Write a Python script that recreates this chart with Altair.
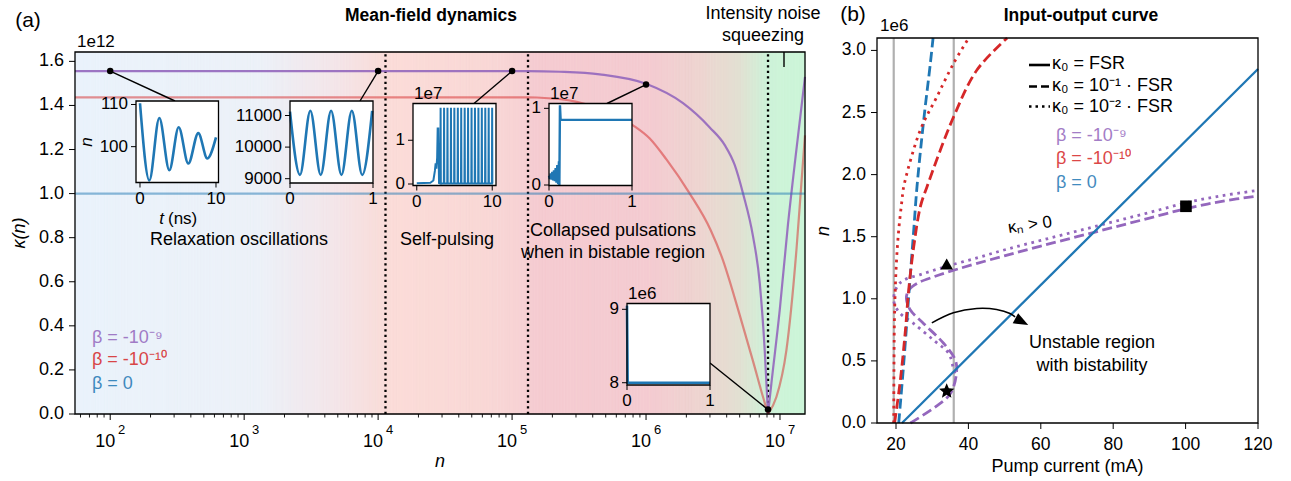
import math
import altair as alt
import pandas as pd

W, H = 1291, 481
FONT = "Liberation Sans"
PURPLE, RED, BLUE = "#9467bd", "#d62728", "#1f77b4"

# ============================ DATA ============================
# ---- panel (a): kappa(n)  (units of 1e12) ----
purple_n = [54.6, 1.3e5, 2.27e5, 4.51e5, 1.0e6, 1.888e6, 2.99e6, 3.87e6, 4.59e6, 5.3e6,
            6.29e6, 7.06e6, 7.69e6, 8.14e6, 8.63e6, 9.95e6, 1.147e7, 1.326e7, 1.537e7]
purple_k = [1.556, 1.556, 1.553, 1.541, 1.498, 1.410, 1.300, 1.220, 1.130, 1.000,
            0.806, 0.595, 0.290, 0.0, 0.140, 0.470, 0.860, 1.200, 1.530]
red_n = [54.6, 1.3e5, 1.53e5, 3.04e5, 8.0e5, 1.066e6, 1.42e6, 2.12e6, 3.04e6, 3.67e6,
         5.0e6, 6.29e6, 7.47e6, 8.14e6, 9.4e6, 1.116e7, 1.326e7, 1.444e7, 1.537e7]
red_k = [1.437, 1.437, 1.436, 1.416, 1.310, 1.250, 1.155, 1.000, 0.834, 0.714,
         0.450, 0.240, 0.077, 0.0, 0.077, 0.289, 0.743, 1.045, 1.264]
blue_n = [54.6, 1.537e7]
blue_k = [1.0, 1.0]

region_n = [1.135e4, 1.315e5, 8.14e6]            # dotted region boundaries
dot_n = [100, 1e4, 1e5, 1e6, 8.14e6]              # marked points on the purple curve
dot_k = [1.556, 1.556, 1.556, 1.495, 0.02]

bg_n = [54.6, 1.3e3, 4.4e3, 1.12e4, 1.3e4, 5.7e4, 1.2e5, 1.45e5, 1.06e6, 2.5e6, 5.0e6, 8.1e6, 1.537e7]
bg_color = ["#eaf2fb", "#ecf1f8", "#f3e6ea", "#f9dcd9", "#fbdcd8", "#f9d8d6", "#f7d2d4",
            "#f5cbd1", "#f4cbd1", "#eed4d0", "#e2e0d2", "#cdf3d8", "#ccf5d8"]

a_xtick_vals = [1e2, 1e3, 1e4, 1e5, 1e6, 1e7]
a_xtick_base = ["10", "10", "10", "10", "10", "10"]
a_xtick_exp = ["2", "3", "4", "5", "6", "7"]
a_ytick_vals = [0, 0.2, 0.4, 0.6, 0.8, 1.0, 1.2, 1.4, 1.6]
a_ytick_lab = ["0.0", "0.2", "0.4", "0.6", "0.8", "1.0", "1.2", "1.4", "1.6"]

# insets (time series)
ins1_t = [0, 1.23, 2.54, 3.86, 5.09, 6.36, 7.67, 8.86, 10.0]
ins1_v = [110.3, 92.0, 106.8, 94.4, 104.6, 96.0, 103.2, 97.2, 102.2]
ins2_t = [0, 0.12, 0.245, 0.37, 0.495, 0.62, 0.745, 0.87, 0.99]
ins2_v = [11120, 9120, 11150, 9120, 11150, 9120, 11150, 9120, 11150]
ins3_pre_t = [0, 1.8, 2.2, 2.4, 2.5, 2.6, 2.7, 2.77, 2.85, 2.95]
ins3_pre_v = [0.02, 0.03, 0.08, 0.30, 0.47, 0.35, 0.60, 1.27, 1.27, 0.02]
ins3_pulse_t = [3.16, 3.62, 4.07, 4.53, 4.98, 5.44, 5.89, 6.35, 6.80, 7.26, 7.71, 8.17,
                8.62, 9.08, 9.53, 9.99]
ins3_pulse_v = 1.74
ins4_t = [0, 0.01, 0.02, 0.03, 0.04, 0.05, 0.06, 0.07, 0.08, 0.09, 0.10, 0.11, 0.12,
          0.125, 0.132, 0.14, 1.0]
ins4_v = [0.12, 0.08, 0.15, 0.07, 0.17, 0.06, 0.19, 0.05, 0.22, 0.03, 0.26, 0.01, 0.31,
          0.0, 1.04, 0.85, 0.85]
ins5_t = [0, 0.008, 0.02, 1.0]
ins5_v = [9.05, 8.0, 8.0, 8.0]

# ---- panel (b): input-output curves (n in units of 1e6) ----
bs_I = [21.66, 120]; bs_n = [0, 2.85]                                   # beta=0, FSR
bd_I = [20.75, 22.13, 23.5, 24.9, 25.8, 27.66, 29.5, 30.24]            # beta=0, 0.1 FSR
bd_n = [0, 0.479, 1.016, 1.554, 1.903, 2.44, 2.898, 3.1]
rd_I = [19.6, 21.2, 22.6, 23.5, 24.9, 26.73, 28.57, 35.95, 42.4, 50.7]  # beta=-1e-10, 0.1 FSR
rd_n = [0, 0.344, 0.748, 1.07, 1.42, 1.742, 1.903, 2.468, 2.844, 3.1]
rt_I = [19.37, 19.45, 19.6, 20.1, 20.75, 21.66, 22.13, 26.73, 31.35, 35.95, 40.1]  # 0.01 FSR
rt_n = [0, 0.5, 0.88, 1.285, 1.554, 1.796, 1.903, 2.36, 2.63, 2.898, 3.1]
pd_I = [23.97, 30.9, 35.03, 36.7, 36.4, 33.2, 27.66, 23.97, 22.87, 23.5, 25.8, 30.4,
        35.95, 42.4, 50.7, 60, 70, 80, 90, 100.4, 110, 120]             # beta=-1e-9, 0.1 FSR
pd_n = [0, 0.13, 0.237, 0.40, 0.506, 0.64, 0.80, 0.91, 1.003, 1.07, 1.124, 1.177,
        1.23, 1.285, 1.352, 1.425, 1.50, 1.575, 1.65, 1.728, 1.785, 1.828]
pt_I = [36.3, 35.76, 34.57, 30.4, 24.9, 20.75, 19.37, 20.28, 22.13, 26.73, 33.2, 42.4,
        50.7, 60, 70, 80, 90, 100.4, 110, 120]                          # beta=-1e-9, 0.01 FSR
pt_n = [0.40, 0.452, 0.56, 0.667, 0.80, 0.895, 0.99, 1.097, 1.15, 1.195, 1.255, 1.33,
        1.40, 1.47, 1.545, 1.62, 1.695, 1.775, 1.83, 1.873]
grey_I = [19.37, 35.95]
mark_I = [34.0, 34.0, 100.1]
mark_n = [1.28, 0.256, 1.745]
arrow_I = [29.9, 35.85, 42.3, 47.8, 51.5, 52.9]
arrow_n = [0.806, 0.887, 0.922, 0.914, 0.882, 0.855]
arrowhead_I, arrowhead_n = 54.76, 0.816

b_xtick_vals = [20, 40, 60, 80, 100, 120]
b_xtick_lab = ["20", "40", "60", "80", "100", "120"]
b_ytick_vals = [0, 0.5, 1.0, 1.5, 2.0, 2.5, 3.0]
b_ytick_lab = ["0.0", "0.5", "1.0", "1.5", "2.0", "2.5", "3.0"]

# ============================ LAYOUT ============================
A_NMIN, A_NMAX, A_KMAX = 54.6, 1.537e7, 1.6425
A_PX, A_PY = (75, 805), (414, 52)
B_IMIN, B_IMAX, B_NMAX = 14.75, 120, 3.1
B_PX, B_PY = (877, 1258), (423, 38)

ONE = pd.DataFrame({"a": [1]})


def S(dom, rng, log=False):
    if log:
        return alt.Scale(type="log", domain=list(dom), range=list(rng), nice=False)
    return alt.Scale(type="linear", domain=list(dom), range=list(rng), nice=False, zero=False)


AX = lambda: S((A_NMIN, A_NMAX), A_PX, log=True)
AY = lambda: S((0, A_KMAX), A_PY)
BX = lambda: S((B_IMIN, B_IMAX), B_PX)
BY = lambda: S((0, B_NMAX), B_PY)

LO, HI = math.log10(A_NMIN), math.log10(A_NMAX)


def ax_inv(px):
    return 10 ** (LO + (px - A_PX[0]) / (A_PX[1] - A_PX[0]) * (HI - LO))


def ay_inv(py):
    return (A_PY[0] - py) / (A_PY[0] - A_PY[1]) * A_KMAX


def rect(xs, ys, xd, yd, **mk):
    df = pd.DataFrame({"x": [xd[0]], "x2": [xd[1]], "y": [yd[0]], "y2": [yd[1]]})
    return alt.Chart(df).mark_rect(**mk).encode(
        x=alt.X("x:Q", scale=xs, axis=None), x2="x2:Q",
        y=alt.Y("y:Q", scale=ys, axis=None), y2="y2:Q")


def line(xv, yv, xs, ys, **mk):
    df = pd.DataFrame({"x": xv, "y": yv, "i": list(range(len(xv)))})
    return alt.Chart(df).mark_line(**mk).encode(
        x=alt.X("x:Q", scale=xs, axis=None),
        y=alt.Y("y:Q", scale=ys, axis=None),
        order="i:Q")


def txt(s, x, y, size=18, color="black", weight="normal", align="center",
        style="normal", angle=None, opacity=None, baseline="middle"):
    mk = dict(text=s, fontSize=size, color=color, fontWeight=weight, align=align,
              baseline=baseline, font=FONT, fontStyle=style)
    if angle is not None:
        mk["angle"] = angle
    if opacity is not None:
        mk["opacity"] = opacity
    return alt.Chart(ONE).mark_text(**mk).encode(x=alt.value(x), y=alt.value(y))


def vrule(vals, xs, ys, yd, **mk):
    df = pd.DataFrame({"x": vals, "y": [yd[0]] * len(vals), "y2": [yd[1]] * len(vals)})
    return alt.Chart(df).mark_rule(**mk).encode(
        x=alt.X("x:Q", scale=xs, axis=None),
        y=alt.Y("y:Q", scale=ys, axis=None), y2="y2:Q")


# ---- hand-drawn axes (ticks + labels through the scales) ----
def xticks(vals, xs, y0, length, width=1.0):
    return alt.Chart(pd.DataFrame({"v": vals})).mark_rule(color="black", strokeWidth=width).encode(
        x=alt.X("v:Q", scale=xs, axis=None), y=alt.value(y0), y2=alt.value(y0 + length))


def xlabels(vals, labels, xs, y, size, dx=0):
    mk = dict(fontSize=size, baseline="top", align="center", color="black", font=FONT)
    if dx:
        mk["dx"] = dx
    return alt.Chart(pd.DataFrame({"v": vals, "l": labels})).mark_text(**mk).encode(
        x=alt.X("v:Q", scale=xs, axis=None), y=alt.value(y), text="l:N")


def yticks(vals, ys, x0, length, width=1.0):
    return alt.Chart(pd.DataFrame({"v": vals})).mark_rule(color="black", strokeWidth=width).encode(
        y=alt.Y("v:Q", scale=ys, axis=None), x=alt.value(x0 - length), x2=alt.value(x0))


def ylabels(vals, labels, ys, x, size):
    return alt.Chart(pd.DataFrame({"v": vals, "l": labels})).mark_text(
        fontSize=size, baseline="middle", align="right", color="black", font=FONT).encode(
        y=alt.Y("v:Q", scale=ys, axis=None), x=alt.value(x), text="l:N")


def hexrgb(h):
    return [int(h[i:i + 2], 16) for i in (1, 3, 5)]


layers = []

# ---------------- panel (a) ----------------
stop_pos = [(math.log10(n) - LO) / (HI - LO) for n in bg_n]
NSL = 240
sl_x, sl_x2, sl_c = [], [], []
for i in range(NSL):
    p0, p1 = i / NSL, (i + 1) / NSL
    pm = (p0 + p1) / 2
    j = 0
    for k in range(len(stop_pos) - 1):
        if stop_pos[k] <= pm:
            j = k
    f = (pm - stop_pos[j]) / (stop_pos[j + 1] - stop_pos[j])
    f = min(1, max(0, f))
    c0, c1 = hexrgb(bg_color[j]), hexrgb(bg_color[j + 1])
    c = [round(a + (b - a) * f) for a, b in zip(c0, c1)]
    sl_x.append(10 ** (LO + p0 * (HI - LO)))
    sl_x2.append(10 ** (LO + p1 * (HI - LO)))
    sl_c.append("#%02x%02x%02x" % tuple(c))
bgdf = pd.DataFrame({"x": sl_x, "x2": sl_x2, "y": [0.0] * NSL, "y2": [A_KMAX] * NSL, "c": sl_c})
layers.append(alt.Chart(bgdf).mark_rect(strokeWidth=0.8).encode(
    x=alt.X("x:Q", scale=AX(), axis=None), x2="x2:Q",
    y=alt.Y("y:Q", scale=AY(), axis=None), y2="y2:Q",
    fill=alt.Fill("c:N", scale=None), stroke=alt.Stroke("c:N", scale=None)))

layers.append(vrule(region_n, AX(), AY(), (0, A_KMAX), color="black", strokeWidth=2.3,
                    strokeDash=[2.3, 3.2]))


def split_at_min(xv, yv):
    m = yv.index(min(yv))
    return (xv[:m + 1], yv[:m + 1]), (xv[m:], yv[m:])


for xv, yv, col, op in [(purple_n, purple_k, PURPLE, 0.9), (red_n, red_k, RED, 0.5)]:
    for part in split_at_min(xv, yv):
        layers.append(line(part[0], part[1], AX(), AY(), color=col, strokeWidth=2.2,
                           opacity=op, interpolate="monotone"))
layers.append(line(blue_n, blue_k, AX(), AY(), color=BLUE, strokeWidth=2.2, opacity=0.5))

# connectors from curve points to insets
conn_px = [(175, 101), (360, 101), (474, 103.5), (607, 103.5), (710, 363)]
cdf = pd.DataFrame({"x": dot_n, "y": dot_k,
                    "x2": [ax_inv(p[0]) for p in conn_px],
                    "y2": [ay_inv(p[1]) for p in conn_px]})
layers.append(alt.Chart(cdf).mark_rule(color="black", strokeWidth=1.4).encode(
    x=alt.X("x:Q", scale=AX(), axis=None), y=alt.Y("y:Q", scale=AY(), axis=None),
    x2="x2:Q", y2="y2:Q"))

# insets
INSETS = [
    dict(t=ins1_t, v=ins1_v, bx=(136, 218.5), by=(101, 182.5), xd=(-0.526, 10.33),
         yd=(91.5, 110.83), xt=[0, 10], xl=["0", "10"], yt=[100, 110], yl=["100", "110"],
         lw=2.6, ip="monotone", mult=None),
    dict(t=ins2_t, v=ins2_v, bx=(290, 373), by=(101, 183), xd=(0, 1),
         yd=(8864, 11459), xt=[0, 1], xl=["0", "1"], yt=[9000, 10000, 11000],
         yl=["9000", "10000", "11000"], lw=2.6, ip="monotone", mult=None),
    dict(t=None, v=None, bx=(413, 496), by=(103.5, 185.5), xd=(-0.5, 10.5),
         yd=(-0.034, 1.84), xt=[0, 10], xl=["0", "10"], yt=[0, 1], yl=["0", "1"],
         lw=2.0, ip="linear", mult="1e7"),
    dict(t=ins4_t, v=ins4_v, bx=(549, 632), by=(103.5, 185.5), xd=(0, 1),
         yd=(-0.0065, 1.063), xt=[0, 1], xl=["0", "1"], yt=[0, 1], yl=["0", "1"],
         lw=2.4, ip="linear", mult="1e7"),
    dict(t=ins5_t, v=ins5_v, bx=(627, 710), by=(303.5, 385), xd=(0, 1),
         yd=(7.969, 9.079), xt=[0, 1], xl=["0", "1"], yt=[8, 9], yl=["8", "9"],
         lw=2.6, ip="linear", mult="1e6"),
]

t3, v3 = list(ins3_pre_t), list(ins3_pre_v)
for tp in ins3_pulse_t:
    t3 += [tp - 0.03, tp, tp + 0.03]
    v3 += [0.01, ins3_pulse_v, 0.01]
INSETS[2]["t"], INSETS[2]["v"] = t3, v3

for ins in INSETS:
    bx, by = ins["bx"], ins["by"]
    xs = lambda: S(ins["xd"], bx)
    ys = lambda: S(ins["yd"], (by[1], by[0]))
    layers.append(rect(xs(), ys(), ins["xd"], ins["yd"], fill="white"))
    layers.append(line(ins["t"], ins["v"], xs(), ys(), color=BLUE, strokeWidth=ins["lw"],
                       interpolate=ins["ip"]))
    layers.append(rect(xs(), ys(), ins["xd"], ins["yd"], fillOpacity=0, stroke="black",
                       strokeWidth=1.3))
    layers.append(xticks(ins["xt"], xs(), by[1], 5))
    layers.append(xlabels(ins["xt"], ins["xl"], xs(), by[1] + 8, 17))
    layers.append(yticks(ins["yt"], ys(), bx[0], 5))
    layers.append(ylabels(ins["yt"], ins["yl"], ys(), bx[0] - 8, 17))
    if ins["mult"]:
        layers.append(txt(ins["mult"], bx[0] + 1, by[0] - 10, size=17, align="left"))

# inset 1 axis titles
layers += [
    txt("n", 87, 142, size=17, style="italic", angle=270),
    txt("t", 164, 219, size=17, style="italic", align="right"),
    txt("(ns)", 168, 219, size=17, align="left"),
]

# dots on top
layers.append(alt.Chart(pd.DataFrame({"x": dot_n, "y": dot_k})).mark_circle(
    color="black", size=42, opacity=1).encode(
    x=alt.X("x:Q", scale=AX(), axis=None), y=alt.Y("y:Q", scale=AY(), axis=None)))

layers.append(rect(AX(), AY(), (A_NMIN, A_NMAX), (0, A_KMAX), fillOpacity=0,
                   stroke="black", strokeWidth=1.3))

# axes of panel (a)
minor = [m * 10 ** d for d in range(1, 8) for m in range(2, 10)
         if A_NMIN <= m * 10 ** d <= A_NMAX]
layers += [
    xticks(a_xtick_vals, AX(), A_PY[0], 6),
    xticks(minor, AX(), A_PY[0], 3.5, width=0.9),
    xlabels(a_xtick_vals, a_xtick_base, AX(), 433, 18, dx=-5),
    xlabels(a_xtick_vals, a_xtick_exp, AX(), 423.5, 13, dx=11.5),
    yticks(a_ytick_vals, AY(), A_PX[0], 6),
    ylabels(a_ytick_vals, a_ytick_lab, AY(), A_PX[0] - 11, 18),
    txt("n", 440, 462, size=18, style="italic"),
    txt("κ(n)", 20, 233, size=18, style="italic", angle=270),
]

# panel (a) annotations
layers += [
    txt("(a)", 28, 21, size=21),
    txt("Mean-field dynamics", 431, 16, size=17.5, weight="bold"),
    txt("1e12", 77, 42, size=17, align="left"),
    txt("Relaxation oscillations", 239, 240),
    txt("Self-pulsing", 447, 240),
    txt("Collapsed pulsations", 613, 231),
    txt("when in bistable region", 613, 253),
    txt("Intensity noise", 763, 14),
    txt("squeezing", 763, 36),
    txt("β = -10⁻⁹", 92, 338, color=PURPLE, align="left", opacity=0.85),
    txt("β = -10⁻¹⁰", 92, 360, color=RED, align="left", opacity=0.85),
    txt("β = 0", 92, 384, color=BLUE, align="left", opacity=0.85),
    alt.Chart(ONE).mark_rule(color="black", strokeWidth=1.4).encode(
        x=alt.value(784), y=alt.value(52), y2=alt.value(67)),
]

# ---------------- panel (b) ----------------
layers.append(vrule(grey_I, BX(), BY(), (0, B_NMAX), color="#b0b0b0", strokeWidth=2.2))

DASH, DOT = [10, 4.5], [2.7, 4.6]
layers.append(line(pt_I, pt_n, BX(), BY(), color=PURPLE, strokeWidth=2.8, strokeDash=DOT,
                   interpolate="catmull-rom"))
layers.append(line(pd_I, pd_n, BX(), BY(), color=PURPLE, strokeWidth=2.8, strokeDash=DASH,
                   interpolate="catmull-rom"))
layers.append(line(bs_I, bs_n, BX(), BY(), color=BLUE, strokeWidth=2.3))
layers.append(line(bd_I, bd_n, BX(), BY(), color=BLUE, strokeWidth=2.8, strokeDash=DASH,
                   interpolate="catmull-rom"))
layers.append(line(rd_I, rd_n, BX(), BY(), color=RED, strokeWidth=2.8, strokeDash=DASH,
                   interpolate="catmull-rom"))
layers.append(line(rt_I, rt_n, BX(), BY(), color=RED, strokeWidth=2.8, strokeDash=DOT,
                   interpolate="catmull-rom"))

# arrow (curved shaft + arrowhead pointing down-right)
ARROWHEAD = "M1,0 L-1,-0.8 L-1,0.8 Z"
layers.append(line(arrow_I, arrow_n, BX(), BY(), color="black", strokeWidth=1.6,
                   interpolate="catmull-rom"))
layers.append(alt.Chart(pd.DataFrame({"x": [arrowhead_I], "y": [arrowhead_n]})).mark_point(
    shape=ARROWHEAD, size=210, filled=True, color="black", opacity=1, angle=28).encode(
    x=alt.X("x:Q", scale=BX(), axis=None), y=alt.Y("y:Q", scale=BY(), axis=None)))

# markers: triangle, star (custom path), square
star_pts = []
for k in range(10):
    r = 1.0 if k % 2 == 0 else 0.45
    a = math.radians(-90 + 36 * k)
    star_pts.append("%.3f,%.3f" % (r * math.cos(a), r * math.sin(a)))
STAR = "M" + " L".join(star_pts) + " Z"
mdf = pd.DataFrame({"x": mark_I, "y": mark_n, "s": ["triangle-up", STAR, "square"],
                    "z": [160, 260, 135]})
layers.append(alt.Chart(mdf).mark_point(filled=True, color="black", opacity=1).encode(
    x=alt.X("x:Q", scale=BX(), axis=None), y=alt.Y("y:Q", scale=BY(), axis=None),
    shape=alt.Shape("s:N", scale=None), size=alt.Size("z:Q", scale=None)))

layers.append(rect(BX(), BY(), (B_IMIN, B_IMAX), (0, B_NMAX), fillOpacity=0,
                   stroke="black", strokeWidth=1.3))

# axes of panel (b)
layers += [
    xticks(b_xtick_vals, BX(), B_PY[0], 6),
    xlabels(b_xtick_vals, b_xtick_lab, BX(), 435.5, 17.5),
    yticks(b_ytick_vals, BY(), B_PX[0], 6),
    ylabels(b_ytick_vals, b_ytick_lab, BY(), B_PX[0] - 11, 17.5),
    txt("Pump current (mA)", 1067.5, 467, size=18),
    txt("n", 824, 231, size=18, style="italic", angle=270),
]

# legend of panel (b)
for yy, dash in [(65, None), (86.5, [8, 4]), (106.5, [2.5, 4])]:
    mk = dict(color="black", strokeWidth=2.6)
    if dash:
        mk["strokeDash"] = dash
    layers.append(alt.Chart(ONE).mark_rule(**mk).encode(
        x=alt.value(1029), x2=alt.value(1050), y=alt.value(yy)))

layers += [
    txt("(b)", 853, 15, size=21),
    txt("Input-output curve", 1081, 16, size=17.5, weight="bold"),
    txt("1e6", 880, 26, size=17, align="left"),
    txt("κ₀ = FSR", 1052, 64, align="left"),
    txt("κ₀ = 10⁻¹ · FSR", 1052, 86, align="left"),
    txt("κ₀ = 10⁻² · FSR", 1052, 107, align="left"),
    txt("β = -10⁻⁹", 1056, 135.5, color=PURPLE, align="left", opacity=0.85),
    txt("β = -10⁻¹⁰", 1056, 159, color=RED, align="left", opacity=0.85),
    txt("β = 0", 1056, 183, color=BLUE, align="left", opacity=0.85),
    txt("κₙ > 0", 1030, 225, size=17, angle=352),
    txt("Unstable region", 1092, 343),
    txt("with bistability", 1092, 365.5),
]

chart = alt.layer(*layers).resolve_scale(x="independent", y="independent").properties(
    width=W, height=H, padding=0, autosize=alt.AutoSizeParams(type="none"),
    background="white"
).configure(font=FONT).configure_view(stroke=None)

chart.save("out.html", embed_options={"renderer": "svg", "actions": False})
